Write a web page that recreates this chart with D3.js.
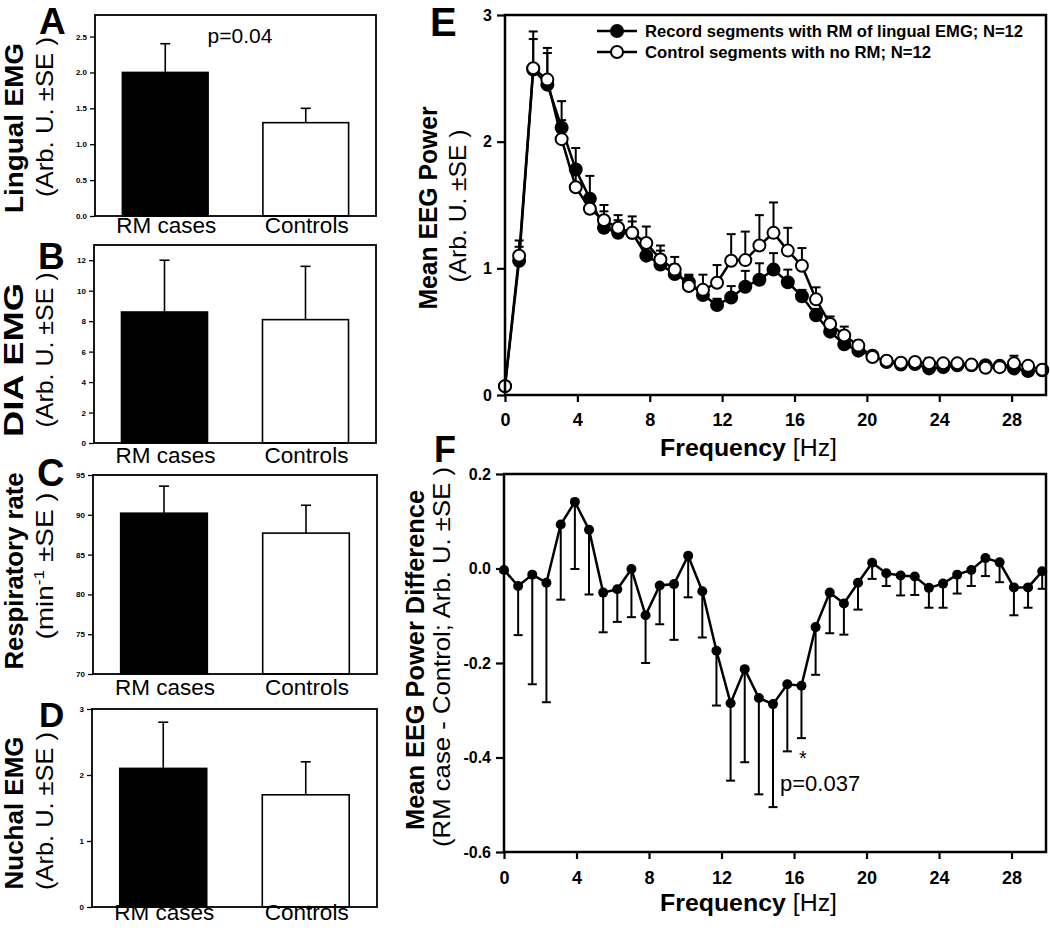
<!DOCTYPE html>
<html>
<head>
<meta charset="utf-8">
<script src="https://cdn.jsdelivr.net/npm/d3@7"></script>
<style>
  html, body { margin: 0; padding: 0; background: #fff; }
  svg { display: block; }
  text { font-family: "Liberation Sans", Arial, Helvetica, sans-serif; fill: #000; }
</style>
</head>
<body>
<svg id="chart" width="1050" height="933"></svg>
<script>
// ---------------- DATA ----------------
const barCategories = ["RM cases", "Controls"];

const lingualMean = [2.0, 1.3];
const lingualSE   = [0.4, 0.2];
const lingualTicks = [0, 0.5, 1.0, 1.5, 2.0, 2.5];

const diaMean = [8.6, 8.1];
const diaSE   = [3.4, 3.5];
const diaTicks = [0, 2, 4, 6, 8, 10, 12];

const respMean = [90.2, 87.7];
const respSE   = [3.4, 3.5];
const respTicks = [70, 75, 80, 85, 90, 95];

const nuchalMean = [2.1, 1.7];
const nuchalSE   = [0.7, 0.5];
const nuchalTicks = [0, 1, 2, 3];

// Frequency bins (Hz)
const freqs = [0, 0.78, 1.56, 2.34, 3.13, 3.91, 4.69, 5.47, 6.25, 7.03, 7.81, 8.59, 9.38,
  10.16, 10.94, 11.72, 12.5, 13.28, 14.06, 14.84, 15.63, 16.41, 17.19, 17.97, 18.75,
  19.53, 20.31, 21.09, 21.88, 22.66, 23.44, 24.22, 25.0, 25.78, 26.56, 27.34, 28.13,
  28.91, 29.69];

// Panel E: mean EEG power
const rmPower = [0.07, 1.06, 2.57, 2.45, 2.11, 1.78, 1.55, 1.32, 1.28, 1.28, 1.10, 1.03, 0.955,
  0.89, 0.79, 0.71, 0.77, 0.855, 0.91, 0.99, 0.89, 0.78, 0.63, 0.50, 0.40, 0.35, 0.31, 0.26,
  0.24, 0.245, 0.21, 0.22, 0.235, 0.235, 0.235, 0.23, 0.21, 0.19, 0.195];
const rmPowerSE = [0.01, 0.11, 0.24, 0.25, 0.21, 0.17, 0.18, 0.13, 0.10, 0.09, 0.10, 0.11, 0.075,
  0.06, 0.04, 0.05, 0.09, 0.125, 0.13, 0.13, 0.10, 0.05, 0.05, 0.03, 0.03, 0.02, 0.02, 0.02,
  0.02, 0.02, 0.02, 0.02, 0.02, 0.02, 0.02, 0.02, 0.03, 0.02, 0.02];
const ctrlPower = [0.07, 1.10, 2.58, 2.49, 2.02, 1.64, 1.47, 1.38, 1.32, 1.28, 1.20, 1.07, 0.99,
  0.86, 0.83, 0.886, 1.06, 1.065, 1.18, 1.28, 1.14, 1.02, 0.755, 0.56, 0.47, 0.39, 0.30, 0.27,
  0.255, 0.26, 0.25, 0.25, 0.25, 0.24, 0.215, 0.22, 0.25, 0.23, 0.20];
const ctrlPowerSE = [0.01, 0.12, 0.29, 0.25, 0.15, 0.10, 0.10, 0.12, 0.10, 0.13, 0.13, 0.11, 0.10,
  0.08, 0.12, 0.14, 0.21, 0.225, 0.24, 0.24, 0.18, 0.14, 0.095, 0.06, 0.07, 0.04, 0.03, 0.03,
  0.03, 0.03, 0.04, 0.03, 0.03, 0.03, 0.03, 0.03, 0.06, 0.03, 0.03];
const powerTicksY = [0, 1, 2, 3];

// Panel F: difference RM case - control
const diffPower = [-0.003, -0.037, -0.013, -0.030, 0.093, 0.141, 0.082, -0.051, -0.044, -0.001,
  -0.099, -0.036, -0.033, 0.027, -0.048, -0.174, -0.285, -0.213, -0.274, -0.287, -0.245, -0.248,
  -0.124, -0.051, -0.074, -0.030, 0.012, -0.010, -0.015, -0.017, -0.041, -0.032, -0.013, -0.003,
  0.022, 0.013, -0.040, -0.040, -0.006];
const diffSE = [0.004, 0.104, 0.232, 0.253, 0.159, 0.142, 0.137, 0.084, 0.069, 0.102, 0.101,
  0.082, 0.118, 0.088, 0.098, 0.116, 0.164, 0.197, 0.204, 0.218, 0.142, 0.111, 0.101, 0.086,
  0.066, 0.057, 0.034, 0.027, 0.042, 0.039, 0.042, 0.051, 0.040, 0.034, 0.038, 0.042, 0.059,
  0.043, 0.037];
const diffTicksY = [-0.6, -0.4, -0.2, 0.0, 0.2];
const freqTicks = [0, 4, 8, 12, 16, 20, 24, 28];

// ---------------- DRAWING ----------------
const svg = d3.select("#chart");
svg.append("rect").attr("width", 1050).attr("height", 933).attr("fill", "#fff");

function rotLabel(g, x, yc, len, txt, bold, size) {
  const t = g.append("text")
    .attr("transform", `translate(${x},${yc}) rotate(-90)`)
    .attr("text-anchor", "middle")
    .attr("font-size", size)
    .attr("font-weight", bold ? "bold" : "normal")
    .attr("textLength", len)
    .attr("lengthAdjust", "spacingAndGlyphs");
  if (typeof txt === "string") t.text(txt);
  else txt(t);
  return t;
}

function barPanel(c) {
  const g = svg.append("g");
  const y = d3.scaleLinear().domain(c.domain).range([c.bottom, c.top]);
  const x = d3.scaleBand().domain(barCategories).range([c.left, c.right])
    .paddingInner(0.39).paddingOuter(0.195);

  // bars
  g.selectAll("rect.bar").data(barCategories).join("rect")
    .attr("x", d => x(d))
    .attr("width", x.bandwidth())
    .attr("y", (d, i) => y(c.means[i]))
    .attr("height", (d, i) => y(c.domain[0]) - y(c.means[i]))
    .attr("fill", (d, i) => i === 0 ? "#000" : "#fff")
    .attr("stroke", "#000").attr("stroke-width", 1.6);

  // error bars (upper only)
  barCategories.forEach((d, i) => {
    const cx = x(d) + x.bandwidth() / 2;
    g.append("line").attr("x1", cx).attr("x2", cx)
      .attr("y1", y(c.means[i])).attr("y2", y(c.means[i] + c.ses[i]))
      .attr("stroke", "#000").attr("stroke-width", 1.6);
    g.append("line").attr("x1", cx - 5).attr("x2", cx + 5)
      .attr("y1", y(c.means[i] + c.ses[i])).attr("y2", y(c.means[i] + c.ses[i]))
      .attr("stroke", "#000").attr("stroke-width", 1.6);
  });

  // frame
  g.append("rect").attr("x", c.left).attr("y", c.top)
    .attr("width", c.right - c.left).attr("height", c.bottom - c.top)
    .attr("fill", "none").attr("stroke", "#000").attr("stroke-width", 1.8);

  // y axis
  const ax = g.append("g").attr("transform", `translate(${c.left},0)`)
    .call(d3.axisLeft(y).tickValues(c.ticks).tickSize(5).tickPadding(3).tickFormat(c.fmt));
  ax.select(".domain").remove();
  ax.selectAll("line").attr("stroke", "#000").attr("stroke-width", 1.3);
  ax.selectAll("text").attr("font-size", 8).attr("font-weight", "bold")
    .attr("font-family", "Liberation Sans, Arial, sans-serif");

  // category labels
  g.selectAll("text.cat").data(barCategories).join("text")
    .attr("class", "cat")
    .attr("x", d => x(d) + x.bandwidth() / 2 + 1)
    .attr("y", c.catBaseline)
    .attr("text-anchor", "middle")
    .attr("font-size", 22.5)
    .text(d => d);

  // panel letter
  g.append("text").attr("x", c.letterX).attr("y", c.letterY)
    .attr("font-size", c.letterSize).attr("font-weight", "bold").text(c.letter);

  // y labels
  rotLabel(g, 23, c.l1c, c.l1len, c.l1, true, c.l1size || 25);
  rotLabel(g, 53, c.l2c, c.l2len, c.l2, false, 24);
  return g;
}

const f1 = d3.format(".1f");
const f0 = d3.format("d");

barPanel({ left: 95, right: 376, top: 15, bottom: 216, domain: [0, 2.8],
  ticks: lingualTicks, fmt: f1, means: lingualMean, ses: lingualSE,
  catBaseline: 233, letter: "A", letterX: 39, letterY: 34, letterSize: 37,
  l1: "Lingual EMG", l1c: 128, l1len: 170,
  l2: "(Arb. U. \u00B1SE )", l2c: 117, l2len: 160 });
svg.append("text").attr("x", 240).attr("y", 43).attr("text-anchor", "middle")
  .attr("font-size", 21).text("p=0.04");

barPanel({ left: 94, right: 376, top: 245, bottom: 443, domain: [0, 13],
  ticks: diaTicks, fmt: f0, means: diaMean, ses: diaSE,
  catBaseline: 463, letter: "B", letterX: 38, letterY: 269, letterSize: 37,
  l1: "DIA EMG", l1c: 360, l1len: 154, l1size: 27,
  l2: "(Arb. U. \u00B1SE )", l2c: 350, l2len: 155 });

barPanel({ left: 93, right: 377, top: 475, bottom: 674, domain: [70, 95],
  ticks: respTicks, fmt: f0, means: respMean, ses: respSE,
  catBaseline: 695, letter: "C", letterX: 37, letterY: 486, letterSize: 38,
  l1: "Respiratory rate", l1c: 571, l1len: 197,
  l2: t => { t.append("tspan").text("(min");
             t.append("tspan").attr("font-size", 15).attr("dy", -9).text("-1");
             t.append("tspan").attr("dy", 9).text(" \u00B1SE )"); },
  l2c: 566, l2len: 147 });

barPanel({ left: 92, right: 377, top: 709, bottom: 907, domain: [0, 3],
  ticks: nuchalTicks, fmt: f0, means: nuchalMean, ses: nuchalSE,
  catBaseline: 920, letter: "D", letterX: 39, letterY: 727, letterSize: 35,
  l1: "Nuchal EMG", l1c: 813, l1len: 153,
  l2: "(Arb. U. \u00B1SE )", l2c: 811, l2len: 158 });

// ---------- Panel E ----------
(function () {
  const g = svg.append("g");
  const L = 505, R = 1046, T = 15, B = 395;
  const x = d3.scaleLinear().domain([0, 29.9]).range([L, R]);
  const y = d3.scaleLinear().domain([0, 3]).range([B, T]);

  const series = [
    { m: rmPower, se: rmPowerSE, fill: "#000" },
    { m: ctrlPower, se: ctrlPowerSE, fill: "#fff" }
  ];
  series.forEach(s => {
    s.m.forEach((v, i) => {
      const cx = x(freqs[i]);
      g.append("line").attr("x1", cx).attr("x2", cx)
        .attr("y1", y(v)).attr("y2", y(v + s.se[i]))
        .attr("stroke", "#000").attr("stroke-width", 2);
      g.append("line").attr("x1", cx - 4.5).attr("x2", cx + 4.5)
        .attr("y1", y(v + s.se[i])).attr("y2", y(v + s.se[i]))
        .attr("stroke", "#000").attr("stroke-width", 2);
    });
  });
  const line = d3.line().x((d, i) => x(freqs[i])).y(d => y(d));
  series.forEach(s => {
    g.append("path").datum(s.m).attr("d", line)
      .attr("fill", "none").attr("stroke", "#000").attr("stroke-width", 2.5);
  });
  series.forEach(s => {
    g.selectAll(null).data(s.m).join("circle")
      .attr("cx", (d, i) => x(freqs[i])).attr("cy", d => y(d)).attr("r", 6)
      .attr("fill", s.fill).attr("stroke", "#000").attr("stroke-width", 2);
  });

  g.append("rect").attr("x", L).attr("y", T).attr("width", R - L).attr("height", B - T)
    .attr("fill", "none").attr("stroke", "#000").attr("stroke-width", 2.5);

  const ay = g.append("g").attr("transform", `translate(${L},0)`)
    .call(d3.axisLeft(y).tickValues(powerTicksY).tickSize(8).tickPadding(5).tickFormat(f0));
  ay.select(".domain").remove();
  ay.selectAll("line").attr("stroke-width", 2.2);
  ay.selectAll("text").attr("font-size", 16).attr("font-weight", "bold")
    .attr("font-family", "Liberation Sans, Arial, sans-serif");

  const axb = g.append("g").attr("transform", `translate(0,${B})`)
    .call(d3.axisBottom(x).tickValues(freqTicks).tickSize(7).tickPadding(11).tickFormat(f0));
  axb.select(".domain").remove();
  axb.selectAll("line").attr("stroke-width", 2.2);
  axb.selectAll("text").attr("font-size", 18).attr("font-weight", "bold")
    .attr("font-family", "Liberation Sans, Arial, sans-serif");

  // legend
  const leg = [
    { y: 31, fill: "#000", txt: "Record segments with RM of lingual EMG; N=12", len: 378 },
    { y: 52, fill: "#fff", txt: "Control segments with no RM; N=12", len: 286 }
  ];
  leg.forEach(d => {
    g.append("line").attr("x1", 597).attr("x2", 637).attr("y1", d.y).attr("y2", d.y)
      .attr("stroke", "#000").attr("stroke-width", 2.5);
    g.append("circle").attr("cx", 617).attr("cy", d.y).attr("r", 6)
      .attr("fill", d.fill).attr("stroke", "#000").attr("stroke-width", 2);
    g.append("text").attr("x", 645).attr("y", d.y + 6).attr("font-size", 16.5)
      .attr("font-weight", "bold").attr("textLength", d.len)
      .attr("lengthAdjust", "spacingAndGlyphs").text(d.txt);
  });

  g.append("text").attr("x", 430).attr("y", 36).attr("font-size", 40)
    .attr("font-weight", "bold").text("E");

  rotLabel(g, 437, 208, 203, "Mean EEG Power", true, 25);
  rotLabel(g, 466, 206, 153, "(Arb. U. \u00B1SE )", false, 24);

  const xt = g.append("text").attr("x", 660).attr("y", 456).attr("font-size", 23)
    .attr("textLength", 177).attr("lengthAdjust", "spacingAndGlyphs");
  xt.append("tspan").attr("font-weight", "bold").text("Frequency");
  xt.append("tspan").text(" [Hz]");
})();

// ---------- Panel F ----------
(function () {
  const g = svg.append("g");
  const L = 504, R = 1046, T = 474, B = 852;
  const x = d3.scaleLinear().domain([0, 29.9]).range([L, R]);
  const y = d3.scaleLinear().domain([-0.6, 0.2]).range([B, T]);

  diffPower.forEach((v, i) => {
    const cx = x(freqs[i]);
    g.append("line").attr("x1", cx).attr("x2", cx)
      .attr("y1", y(v)).attr("y2", y(v - diffSE[i]))
      .attr("stroke", "#000").attr("stroke-width", 2);
    g.append("line").attr("x1", cx - 4.5).attr("x2", cx + 4.5)
      .attr("y1", y(v - diffSE[i])).attr("y2", y(v - diffSE[i]))
      .attr("stroke", "#000").attr("stroke-width", 2);
  });
  const line = d3.line().x((d, i) => x(freqs[i])).y(d => y(d));
  g.append("path").datum(diffPower).attr("d", line)
    .attr("fill", "none").attr("stroke", "#000").attr("stroke-width", 2.5);
  g.selectAll(null).data(diffPower).join("circle")
    .attr("cx", (d, i) => x(freqs[i])).attr("cy", d => y(d)).attr("r", 5)
    .attr("fill", "#000");

  g.append("rect").attr("x", L).attr("y", T).attr("width", R - L).attr("height", B - T)
    .attr("fill", "none").attr("stroke", "#000").attr("stroke-width", 2.5);

  const ay = g.append("g").attr("transform", `translate(${L},0)`)
    .call(d3.axisLeft(y).tickValues(diffTicksY).tickSize(8).tickPadding(5)
      .tickFormat(v => v.toFixed(1)));
  ay.select(".domain").remove();
  ay.selectAll("line").attr("stroke-width", 2.2);
  ay.selectAll("text").attr("font-size", 16).attr("font-weight", "bold")
    .attr("font-family", "Liberation Sans, Arial, sans-serif");

  const axb = g.append("g").attr("transform", `translate(0,${B})`)
    .call(d3.axisBottom(x).tickValues(freqTicks).tickSize(7).tickPadding(12).tickFormat(f0));
  axb.select(".domain").remove();
  axb.selectAll("line").attr("stroke-width", 2.2);
  axb.selectAll("text").attr("font-size", 18).attr("font-weight", "bold")
    .attr("font-family", "Liberation Sans, Arial, sans-serif");

  g.append("text").attr("x", 434).attr("y", 462).attr("font-size", 36)
    .attr("font-weight", "bold").text("F");

  rotLabel(g, 424, 660, 340, "Mean EEG Power Difference", true, 25);
  rotLabel(g, 450, 657, 380, "(RM case - Control; Arb. U. \u00B1SE )", false, 24);

  const xt = g.append("text").attr("x", 660).attr("y", 911).attr("font-size", 23)
    .attr("textLength", 177).attr("lengthAdjust", "spacingAndGlyphs");
  xt.append("tspan").attr("font-weight", "bold").text("Frequency");
  xt.append("tspan").text(" [Hz]");

  g.append("text").attr("x", 803).attr("y", 765).attr("text-anchor", "middle")
    .attr("font-size", 20).text("*");
  g.append("text").attr("x", 780).attr("y", 791).attr("font-size", 22).text("p=0.037");
})();
</script>
</body>
</html>
